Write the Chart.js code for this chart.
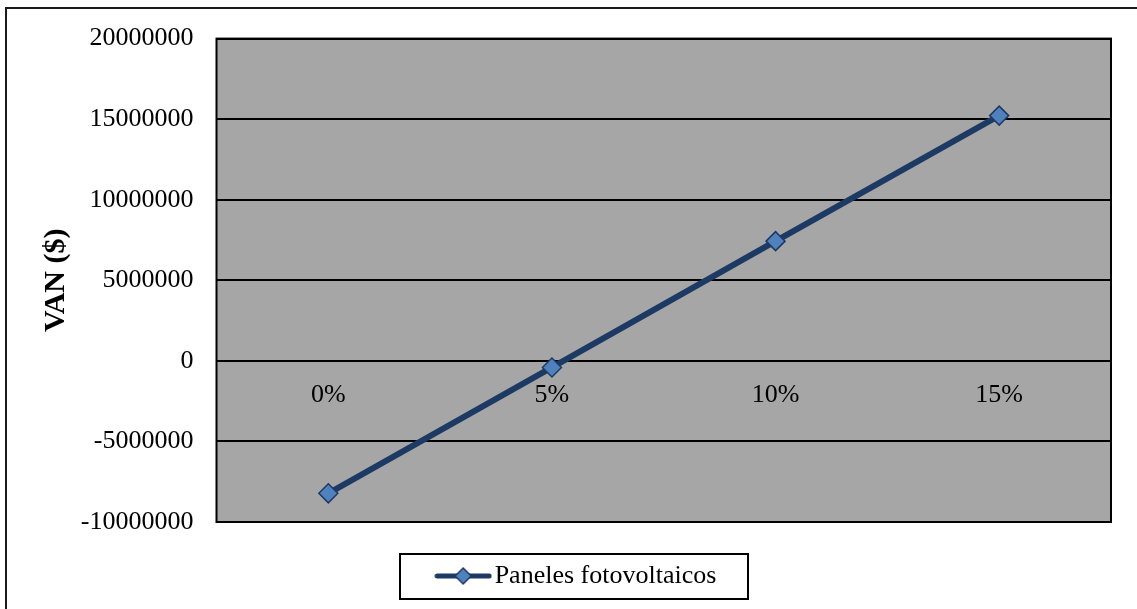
<!DOCTYPE html>
<html>
<head>
<meta charset="utf-8">
<script src="https://cdn.jsdelivr.net/npm/chart.js@4.4.0/dist/chart.umd.min.js"></script>
<style>
  html, body { margin: 0; padding: 0; background: #fff; }
  #wrap { width: 1137px; height: 609px; }
</style>
</head>
<body>
<div id="wrap"><canvas id="chartVan" width="1137" height="609"></canvas></div>
<script>
// VAN de los paneles fotovoltaicos según tasa de descuento
const tasas = ['0%', '5%', '10%', '15%'];
const vanPaneles = [-8220000, -410000, 7430000, 15220000];
const serieNombre = 'Paneles fotovoltaicos';
const yMin = -10000000;
const yMax = 20000000;
const yPaso = 5000000;

const lineColor = '#1c3a64';
const markerFill = '#4f81bd';
const markerEdge = '#1f3864';
const fontFamily = "'Liberation Serif', 'Times New Roman', serif";

// legend icon: line with a diamond in the middle
const legendIcon = document.createElement('canvas');
legendIcon.width = 58;
legendIcon.height = 22;
(() => {
  const ic = legendIcon.getContext('2d');
  ic.strokeStyle = lineColor;
  ic.lineWidth = 5;
  ic.lineCap = 'round';
  ic.beginPath();
  ic.moveTo(3, 11);
  ic.lineTo(55, 11);
  ic.stroke();
  ic.beginPath();
  ic.moveTo(29, 3);
  ic.lineTo(37, 11);
  ic.lineTo(29, 19);
  ic.lineTo(21, 11);
  ic.closePath();
  ic.fillStyle = markerFill;
  ic.fill();
  ic.lineWidth = 1.5;
  ic.strokeStyle = markerEdge;
  ic.stroke();
})();

// grey plot area, frames and legend box
const plotFrame = {
  id: 'plotFrame',
  beforeDraw(chart) {
    const { ctx, chartArea: a } = chart;
    ctx.save();
    ctx.strokeStyle = '#1a1a1a';
    ctx.lineWidth = 2;
    ctx.strokeRect(6, 8, chart.width + 20, chart.height + 20);
    ctx.fillStyle = '#a6a6a6';
    ctx.fillRect(a.left, a.top, a.right - a.left, a.bottom - a.top);
    ctx.restore();
  },
  beforeDatasetsDraw(chart) {
    const { ctx, chartArea: a } = chart;
    ctx.save();
    ctx.strokeStyle = '#000';
    ctx.lineWidth = 2;
    ctx.strokeRect(a.left, a.top, a.right - a.left, a.bottom - a.top);
    ctx.restore();
  },
  afterDraw(chart) {
    const box = chart.legend.legendHitBoxes[0];
    if (!box) return;
    const { ctx } = chart;
    const cy = box.top + box.height / 2;
    ctx.save();
    ctx.strokeStyle = '#000';
    ctx.lineWidth = 2;
    ctx.strokeRect(Math.round(box.left - 45), Math.round(cy - 22), Math.round(box.width + 76), 45);
    ctx.restore();
  }
};

(() => {
  const ctx = document.getElementById('chartVan').getContext('2d');
  new Chart(ctx, {
    type: 'line',
    data: {
      labels: tasas,
      datasets: [{
        label: serieNombre,
        data: vanPaneles,
        borderColor: lineColor,
        borderWidth: 6,
        tension: 0,
        pointStyle: 'rectRot',
        pointRadius: 9.5,
        pointBackgroundColor: markerFill,
        pointBorderColor: markerEdge,
        pointBorderWidth: 1.5
      }]
    },
    options: {
      responsive: false,
      animation: false,
      devicePixelRatio: 1,
      layout: { padding: { top: 38, right: 26, bottom: 10, left: 50 } },
      scales: {
        x: {
          type: 'category',
          offset: true,
          position: { y: 0 },
          grid: { display: false, drawTicks: false },
          border: { display: false },
          ticks: {
            color: '#000',
            padding: 19,
            font: { family: fontFamily, size: 26 }
          }
        },
        y: {
          min: yMin,
          max: yMax,
          grid: { color: '#000', lineWidth: 2, drawTicks: false },
          border: { display: false },
          ticks: {
            stepSize: yPaso,
            color: '#000',
            padding: 23,
            font: { family: fontFamily, size: 26 },
            callback: v => String(v)
          },
          title: {
            display: true,
            text: 'VAN ($)',
            color: '#000',
            padding: { top: -11.5, bottom: 0 },
            font: { family: fontFamily, size: 30, weight: 'bold' }
          },
          afterFit(scale) { scale.width = 166.5; }
        }
      },
      plugins: {
        legend: {
          position: 'bottom',
          labels: {
            color: '#000',
            padding: 41,
            usePointStyle: true,
            pointStyle: legendIcon,
            pointStyleWidth: 37,
            font: { family: fontFamily, size: 26 }
          }
        },
        tooltip: { enabled: false }
      }
    },
    plugins: [plotFrame]
  });
})();
</script>
</body>
</html>
